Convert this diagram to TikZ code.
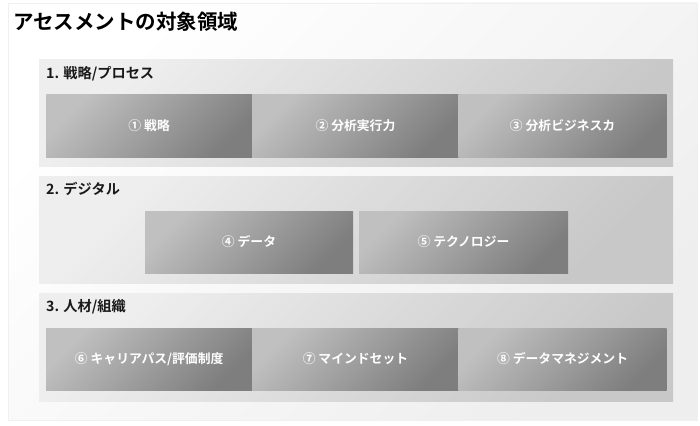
\documentclass[tikz,border=0pt]{standalone}
\usepackage{fontspec}
\setmainfont{Noto Sans CJK JP}[BoldFont={Noto Sans CJK JP Bold}]
\usetikzlibrary{positioning}
\definecolor{cellLight}{RGB}{192,192,192}
\definecolor{cellDark}{RGB}{126,126,126}
\definecolor{panelLight}{RGB}{238,238,238}
\definecolor{panelDark}{RGB}{200,200,200}
\definecolor{pageDark}{RGB}{238,238,238}
\tikzset{
  panel/.style={anchor=north west,inner sep=0pt,outer sep=0pt,
    top color=panelLight,bottom color=panelDark,shading angle=45,minimum width=634pt},
  cell/.style={inner sep=0pt,outer sep=0pt,top color=cellLight,
    bottom color=cellDark,shading angle=45,minimum height=62pt,minimum width=206.3pt,text=white,
    font=\bfseries\fontsize{12.8}{15}\selectfont},
  heading/.style={anchor=west,inner sep=0pt,text=black!90,font=\bfseries\fontsize{14.2}{16}\selectfont}
}
\begin{document}
\begin{tikzpicture}[x=1pt,y=-1pt]
\useasboundingbox (0,0) rectangle (700,425);
\fill[white] (0,0) rectangle (700,425);
\shade[top color=white,bottom color=pageDark,shading angle=45,draw=black!6] (8,3) rectangle (697,420);
\node[anchor=west,inner sep=0pt,font=\bfseries\fontsize{20.5}{24}\selectfont] (title) at (13,22) {アセスメントの対象領域};

\node[panel,minimum height=106pt] (strategy) at (39,60) {};
\node[heading] (strategyHead) at (46,74) {1. 戦略/プロセス};
\node[cell,anchor=north west] (c1) at (46,95) {① 戦略};
\node[cell,right=0pt of c1] (c2) {② 分析実行力};
\node[cell,right=0pt of c2,minimum width=208pt] (c3) {③ 分析ビジネスカ};

\node[panel,minimum height=107pt] (digital) at (39,176) {};
\node[heading] (digitalHead) at (46,189) {2. デジタル};
\node[cell,anchor=north west,minimum width=208pt] (c4) at (145,211) {④ データ};
\node[cell,right=6pt of c4,minimum width=209pt] (c5) {⑤ テクノロジー};

\node[panel,minimum height=108pt] (people) at (39,293) {};
\node[heading] (peopleHead) at (46,307) {3. 人材/組織};
\node[cell,anchor=north west] (c6) at (46,328) {⑥ キャリアパス/評価制度};
\node[cell,right=0pt of c6] (c7) {⑦ マインドセット};
\node[cell,right=0pt of c7,minimum width=208pt] (c8) {⑧ データマネジメント};
\end{tikzpicture}
\end{document}
